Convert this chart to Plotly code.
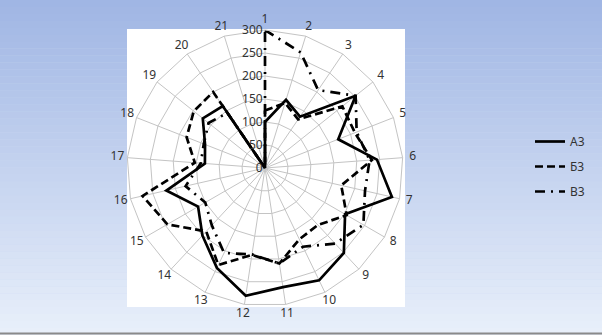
import plotly.graph_objects as go

categories = [str(i) for i in range(1, 22)]
a3 = [100, 155, 135, 252, 171, 244, 283, 201, 252, 271, 262, 281, 241, 200, 168, 220, 131, 140, 173, 163, 0]
b3 = [125, 148, 128, 215, 210, 233, 170, 205, 169, 172, 210, 191, 234, 188, 245, 273, 153, 183, 198, 200, 0]
v3 = [300, 263, 205, 252, 214, 228, 223, 247, 224, 190, 210, 190, 205, 170, 150, 177, 140, 143, 157, 145, 0]
radial_ticks = [0, 50, 100, 150, 200, 250, 300]
series_names = ["А3", "Б3", "В3"]

W, H = 602, 335
FONT = "Noto Sans"
TXT = "#333333"
GRID = "#c4c4c4"
CX, CY, R = 265, 168, 138
LR = 148  # label ring radius in px

fig = go.Figure()


def closed(vals):
    return vals + [vals[0]], categories + [categories[0]]


styles = [
    dict(color="black", width=2.7, dash="solid"),
    dict(color="black", width=2.7, dash="8px,4px"),
    dict(color="black", width=2.7, dash="10px,6px,2px,6px"),
]
for i, (name, vals) in enumerate(zip(series_names, [a3, b3, v3])):
    r, th = closed(vals)
    fig.add_trace(go.Scatterpolar(r=r, theta=th, mode="lines", name=name,
                                  line=styles[i], legendgroup=name))

# category labels on an overlaid, slightly larger polar ring
fig.add_trace(go.Scatterpolar(r=[1] * len(categories), theta=categories, subplot="polar2",
                              mode="text", text=categories, textposition="middle center",
                              textfont=dict(family=FONT, size=12, color=TXT),
                              cliponaxis=False, showlegend=False, hoverinfo="skip"))

# gradient background bands
shapes = []
top = (160, 182, 228)
bot = (232, 239, 250)
N = 48
for k in range(N):
    t = k / (N - 1)
    c = tuple(int(round(top[j] + (bot[j] - top[j]) * t)) for j in range(3))
    shapes.append(dict(type="rect", xref="paper", yref="paper", layer="below",
                       x0=0, x1=1, y0=1 - (k + 1) / N, y1=1 - k / N,
                       fillcolor="rgb(%d,%d,%d)" % c, line=dict(width=0)))
# white chart area
shapes.append(dict(type="rect", xref="paper", yref="paper", layer="below",
                   x0=127 / W, x1=405 / W, y0=1 - 307 / H, y1=1 - 29 / H,
                   fillcolor="white", line=dict(width=0)))
# bottom frame line
shapes.append(dict(type="line", xref="paper", yref="paper", layer="below",
                   x0=0, x1=1, y0=1 - 333.5 / H, y1=1 - 333.5 / H,
                   line=dict(color="#8a8a8a", width=2)))

fig.update_layout(
    width=W, height=H,
    margin=dict(l=0, r=0, t=0, b=0),
    paper_bgcolor="rgb(200,214,240)",
    shapes=shapes,
    font=dict(family=FONT, size=12, color=TXT),
    polar=dict(
        domain=dict(x=[(CX - R) / W, (CX + R) / W], y=[1 - (CY + R) / H, 1 - (CY - R) / H]),
        bgcolor="white",
        gridshape="linear",
        angularaxis=dict(direction="clockwise", rotation=90, type="category",
                         categoryarray=categories, showline=True, linecolor=GRID,
                         linewidth=1, gridcolor=GRID, ticks="", showticklabels=False),
        radialaxis=dict(range=[0, 300], tickvals=radial_ticks, angle=90,
                        tickangle=90, showline=False, gridcolor=GRID, ticks="",
                        side="counterclockwise",
                        tickfont=dict(family=FONT, size=12, color=TXT)),
    ),
    polar2=dict(
        domain=dict(x=[(CX - LR) / W, (CX + LR) / W], y=[1 - (CY + LR) / H, 1 - (CY - LR) / H]),
        bgcolor="rgba(0,0,0,0)",
        angularaxis=dict(direction="clockwise", rotation=90, type="category",
                         categoryarray=categories, visible=False),
        radialaxis=dict(range=[0, 1], visible=False),
    ),
    showlegend=True,
    legend=dict(x=530 / W, y=1 - 127 / H, xanchor="left", yanchor="top",
                bgcolor="rgba(0,0,0,0)", tracegroupgap=6,
                font=dict(family=FONT, size=12, color=TXT)),
)

fig.write_html("out.html")
